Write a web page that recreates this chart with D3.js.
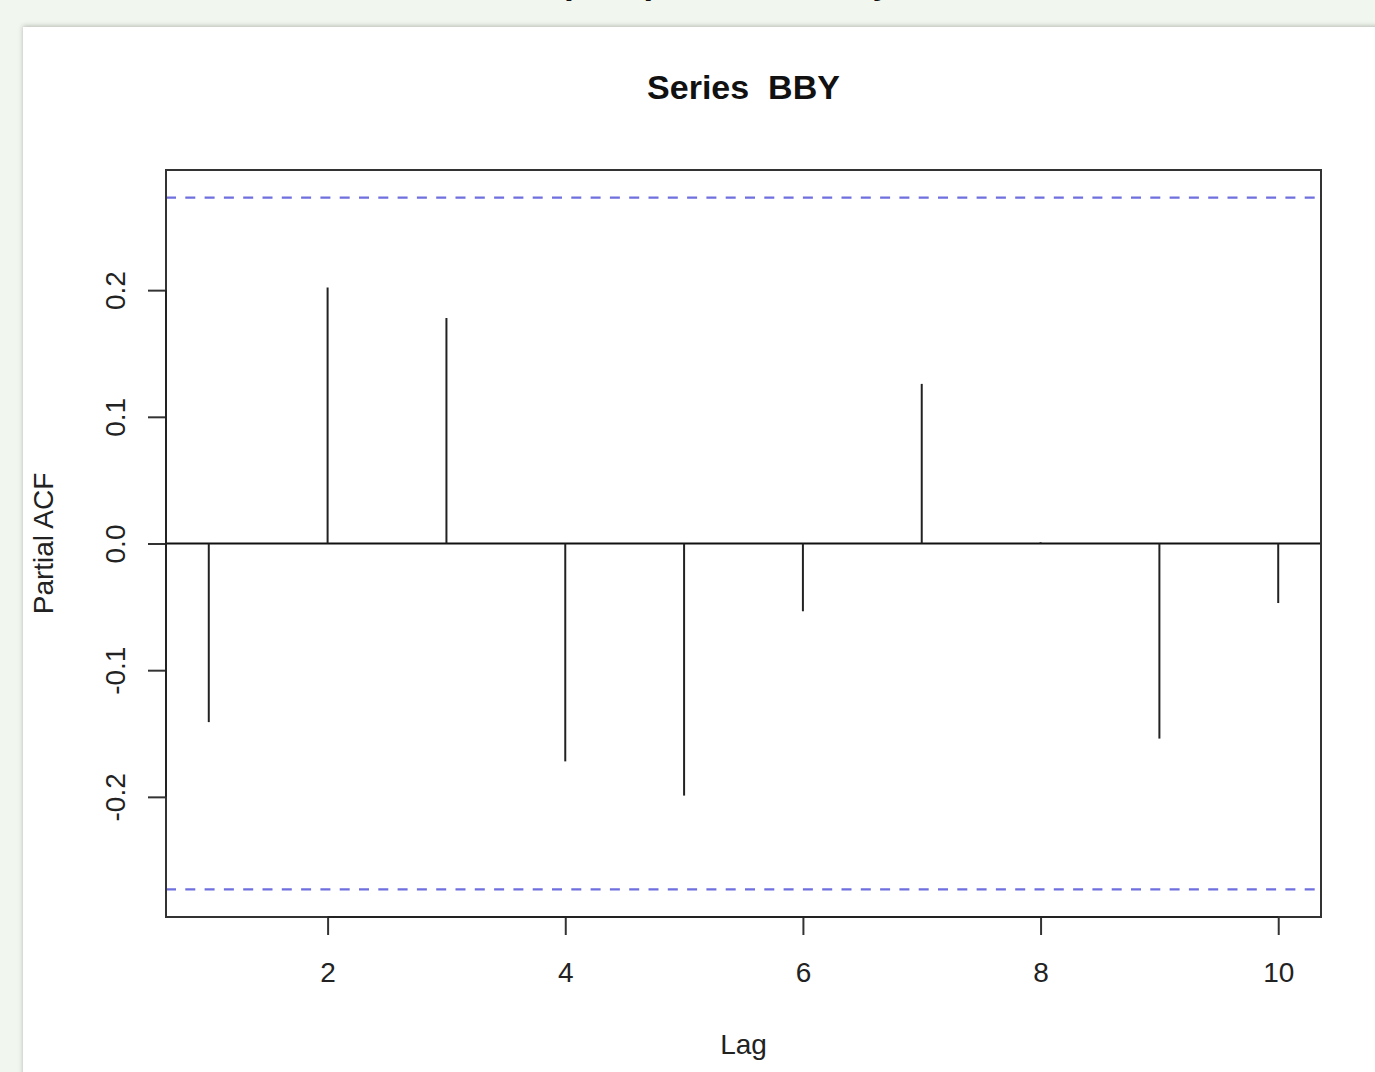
<!DOCTYPE html>
<html>
<head>
<meta charset="utf-8">
<script src="https://cdn.jsdelivr.net/npm/d3@7"></script>
<style>
  html, body { margin: 0; padding: 0; background: #f1f7ee; overflow: hidden; }
  svg { display: block; font-family: "Liberation Sans", Arial, sans-serif; }
</style>
</head>
<body>
<svg id="chart" width="1375" height="1072"></svg>
<script>
// Partial autocorrelation estimates for the BBY series, lags 1..10
const lags = [1, 2, 3, 4, 5, 6, 7, 8, 9, 10];
const pacf = [-0.141, 0.202, 0.178, -0.172, -0.199, -0.0535, 0.126, 0.001, -0.154, -0.047];
// 95% confidence bound (± 1.96 / sqrt(n))
const ciBound = 0.273;
const xTicks = [2, 4, 6, 8, 10];
const yTicks = [-0.2, -0.1, 0.0, 0.1, 0.2];

const svg = d3.select("#chart");
const W = 1375, H = 1072;

// page panel with soft shadow
const defs = svg.append("defs");
const f = defs.append("filter").attr("id", "shadow")
  .attr("x", "-5%").attr("y", "-5%").attr("width", "110%").attr("height", "110%");
f.append("feDropShadow").attr("dx", 0).attr("dy", -1).attr("stdDeviation", 2.5)
  .attr("flood-color", "#000").attr("flood-opacity", 0.25);

// heading of the page, scrolled almost out of view
svg.append("text").attr("y", -6).attr("x", 560).attr("text-anchor", "end")
  .style("font-size", "35px").style("font-weight", "bold").attr("fill", "#111")
  .text("Time Series ");
svg.append("text").attr("y", -6).attr("x", 560)
  .style("font-size", "35px").style("font-weight", "bold").attr("fill", "#111")
  .text("(BBY) Stock Weekly");

svg.append("rect").attr("x", 23).attr("y", 27).attr("width", W).attr("height", H)
  .attr("fill", "#fff").attr("filter", "url(#shadow)");

const plot = { left: 166, right: 1321, top: 170, bottom: 917 };

// R-style 4% axis expansion
const xr = d3.extent(lags), xpad = (xr[1] - xr[0]) * 0.04;
const yr = [-ciBound, ciBound], ypad = (yr[1] - yr[0]) * 0.04;
const x = d3.scaleLinear().domain([xr[0] - xpad, xr[1] + xpad]).range([plot.left, plot.right]);
const y = d3.scaleLinear().domain([yr[0] - ypad, yr[1] + ypad]).range([plot.bottom, plot.top]);

const g = svg.append("g");

// confidence bounds
[ciBound, -ciBound].forEach(v => {
  g.append("line")
    .attr("x1", plot.left).attr("x2", plot.right)
    .attr("y1", y(v)).attr("y2", y(v))
    .attr("stroke", "#6f6fe0").attr("stroke-width", 2.2)
    .attr("stroke-dasharray", "10,9.3");
});

// zero line
g.append("line")
  .attr("x1", plot.left).attr("x2", plot.right)
  .attr("y1", y(0)).attr("y2", y(0))
  .attr("stroke", "#111").attr("stroke-width", 2);

// spikes
g.selectAll("line.spike").data(lags.map((l, i) => ({ l, v: pacf[i] })))
  .join("line").attr("class", "spike")
  .attr("x1", d => x(d.l)).attr("x2", d => x(d.l))
  .attr("y1", y(0)).attr("y2", d => y(d.v))
  .attr("stroke", "#222").attr("stroke-width", 2);

// plot box
g.append("rect")
  .attr("x", plot.left).attr("y", plot.top)
  .attr("width", plot.right - plot.left).attr("height", plot.bottom - plot.top)
  .attr("fill", "none").attr("stroke", "#333").attr("stroke-width", 2);

const axisFont = "Liberation Sans, Arial, sans-serif";

// x axis
const xAxis = d3.axisBottom(x).tickValues(xTicks).tickSize(18).tickSizeOuter(0)
  .tickPadding(27).tickFormat(d3.format("d"));
const gx = svg.append("g").attr("transform", `translate(0,${plot.bottom})`).call(xAxis);
gx.select(".domain").remove();
gx.append("line").attr("x1", x(xTicks[0])).attr("x2", x(xTicks[xTicks.length - 1]))
  .attr("stroke", "#222").attr("stroke-width", 2);
gx.selectAll(".tick line").attr("stroke", "#333").attr("stroke-width", 2);
gx.selectAll(".tick text").attr("fill", "#222")
  .style("font-size", "28px").style("font-family", axisFont);

// y axis (plain hyphen for negatives)
const yAxis = d3.axisLeft(y).tickValues(yTicks).tickSize(18).tickSizeOuter(0)
  .tickFormat(d => d3.format(".1f")(d).replace("\u2212", "-"));
const gy = svg.append("g").attr("transform", `translate(${plot.left},0)`).call(yAxis);
gy.select(".domain").remove();
gy.append("line").attr("y1", y(yTicks[0])).attr("y2", y(yTicks[yTicks.length - 1]))
  .attr("stroke", "#222").attr("stroke-width", 2);
gy.selectAll(".tick line").attr("stroke", "#333").attr("stroke-width", 2);
gy.selectAll(".tick text")
  .attr("x", null).attr("dy", null)
  .attr("text-anchor", "middle")
  .attr("transform", `translate(${125 - plot.left},0) rotate(-90)`)
  .attr("fill", "#222")
  .style("font-size", "28px").style("font-family", axisFont);

// titles
svg.append("text").attr("x", (plot.left + plot.right) / 2).attr("y", 99)
  .attr("text-anchor", "middle").style("font-size", "34px").style("font-weight", "bold")
  .attr("fill", "#111").attr("xml:space", "preserve").text("Series  BBY");

svg.append("text").attr("x", (plot.left + plot.right) / 2).attr("y", 1054)
  .attr("text-anchor", "middle").style("font-size", "28px").attr("fill", "#222").text("Lag");

svg.append("text")
  .attr("transform", `translate(53,${(plot.top + plot.bottom) / 2}) rotate(-90)`)
  .attr("text-anchor", "middle").style("font-size", "28px").attr("fill", "#222")
  .text("Partial ACF");
</script>
</body>
</html>
